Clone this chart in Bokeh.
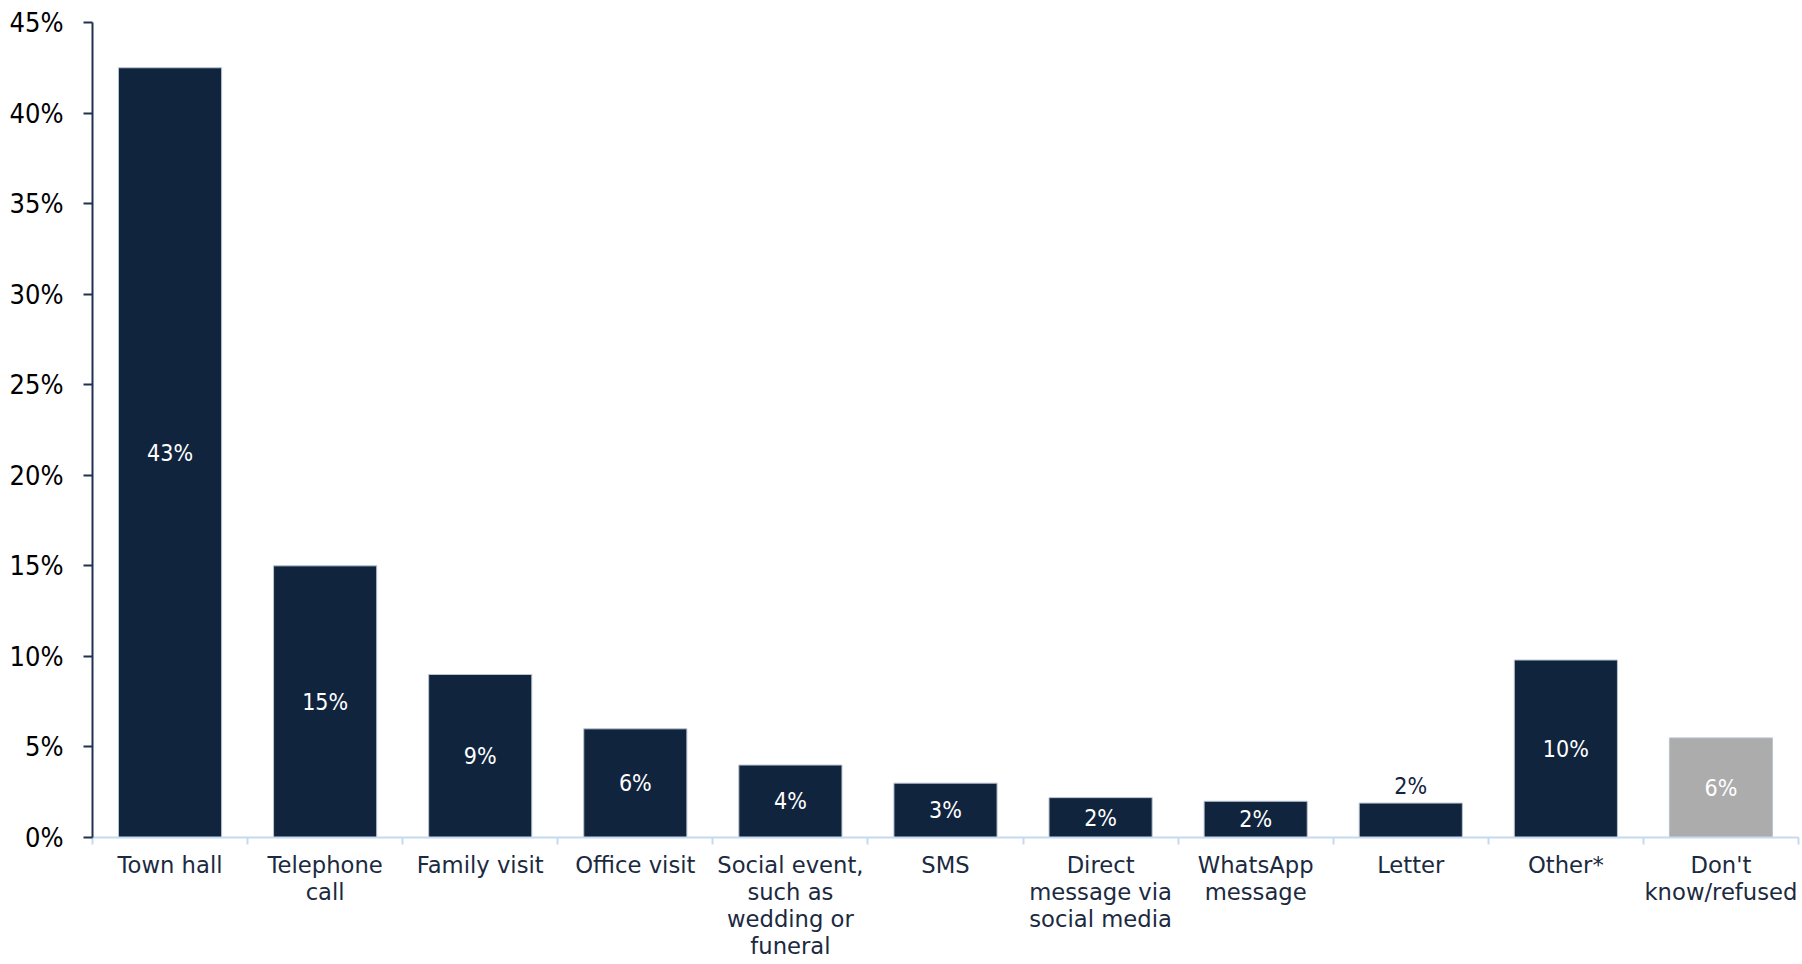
from bokeh.plotting import figure
from bokeh.models import ColumnDataSource, FixedTicker, Range1d, PrintfTickFormatter
from bokeh.core.properties import value
from bokeh.embed import file_html
from bokeh.resources import INLINE

categories = ["Town hall", "Telephone\ncall", "Family visit", "Office visit",
              "Social event,\nsuch as\nwedding or\nfuneral", "SMS",
              "Direct\nmessage via\nsocial media", "WhatsApp\nmessage", "Letter",
              "Other*", "Don't\nknow/refused"]
values = [42.5, 15.0, 9.0, 6.0, 4.0, 3.0, 2.2, 2.0, 1.9, 9.8, 5.5]
labels = ["43%", "15%", "9%", "6%", "4%", "3%", "2%", "2%", "2%", "10%", "6%"]
label_inside = [True, True, True, True, True, True, True, True, False, True, True]
y_ticks = [0, 5, 10, 15, 20, 25, 30, 35, 40, 45]

NAVY = "#10243e"
GRAY = "#acacac"
LABEL_FONT = "DejaVu Sans Condensed, Roboto"
CAT_FONT = "DejaVu Sans"

n = len(categories)
xs = list(range(n))
colors = [GRAY if c.startswith("Don't") else NAVY for c in categories]

src = ColumnDataSource(dict(x=xs, top=values, color=colors))

p = figure(width=1800, height=962, output_backend="svg", toolbar_location=None,
           x_range=Range1d(-0.5, n - 0.5), y_range=Range1d(0, 45),
           min_border_left=92, min_border_top=22, min_border_right=2, min_border_bottom=0)
p.outline_line_color = None
p.xgrid.grid_line_color = None
p.ygrid.grid_line_color = None
p.background_fill_color = "white"
p.border_fill_color = "white"

p.vbar(x="x", top="top", width=0.665, bottom=0, fill_color="color",
       line_color="#b9c4d2", line_width=1, source=src)

# data labels
in_x = [x for x, ins in zip(xs, label_inside) if ins]
in_y = [v / 2 for v, ins in zip(values, label_inside) if ins]
in_t = [t for t, ins in zip(labels, label_inside) if ins]
p.text(x=in_x, y=in_y, text=in_t, text_align="center", text_baseline="middle",
       text_color="white", text_font=value(LABEL_FONT), text_font_size="23px")
out_x = [x for x, ins in zip(xs, label_inside) if not ins]
out_y = [v for v, ins in zip(values, label_inside) if not ins]
out_t = [t for t, ins in zip(labels, label_inside) if not ins]
p.text(x=out_x, y=out_y, text=out_t, text_align="center", text_baseline="middle",
       y_offset=-17, text_color=NAVY, text_font=value(LABEL_FONT), text_font_size="23px")

# x axis
boundaries = [i - 0.5 for i in range(n + 1)]
p.xaxis.ticker = FixedTicker(ticks=xs, minor_ticks=boundaries)
p.xaxis.major_label_overrides = {i: c for i, c in enumerate(categories)}
p.xaxis.axis_line_color = "#c6d9f0"
p.xaxis.axis_line_width = 2
p.xaxis.major_tick_line_color = None
p.xaxis.minor_tick_line_color = "#c6d9f0"
p.xaxis.minor_tick_line_width = 2
p.xaxis.minor_tick_out = 7
p.xaxis.minor_tick_in = 0
p.xaxis.major_label_text_font = CAT_FONT
p.xaxis.major_label_text_font_size = "22.7px"
p.xaxis.major_label_text_color = "#1b2a41"
p.xaxis.major_label_text_line_height = 1.05
p.xaxis.major_label_standoff = 7

# y axis
p.yaxis.ticker = FixedTicker(ticks=y_ticks)
p.yaxis.formatter = PrintfTickFormatter(format="%d%%")
p.yaxis.axis_line_color = "#1f3350"
p.yaxis.axis_line_width = 2
p.yaxis.major_tick_line_color = "#1f3350"
p.yaxis.major_tick_line_width = 2
p.yaxis.major_tick_out = 9
p.yaxis.major_tick_in = 0
p.yaxis.minor_tick_line_color = None
p.yaxis.major_label_text_font = LABEL_FONT
p.yaxis.major_label_text_font_size = "27px"
p.yaxis.major_label_text_color = "black"
p.yaxis.major_label_standoff = 20

open("out.html", "w").write(file_html(p, INLINE))
